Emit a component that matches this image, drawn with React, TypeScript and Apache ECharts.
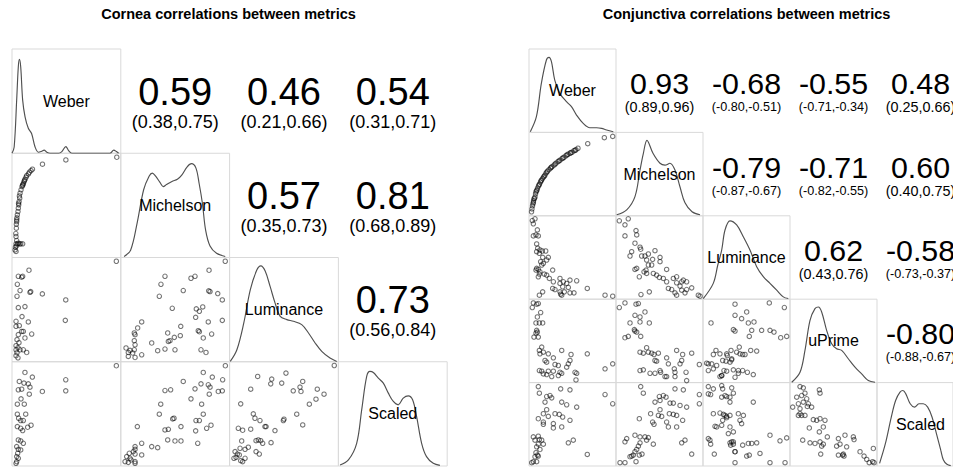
import React, { useEffect, useRef } from "react";
import * as echarts from "echarts";

// ---------------- text data ----------------
const corneaTitle = "Cornea correlations between metrics";
const conjTitle = "Conjunctiva correlations between metrics";
const corneaVars = ["Weber", "Michelson", "Luminance", "Scaled"];
const conjVars = ["Weber", "Michelson", "Luminance", "uPrime", "Scaled"];

// upper-triangle correlations, row-major: (1,2),(1,3),(1,4),(2,3),...
const corneaCor = [0.59, 0.46, 0.54, 0.57, 0.81, 0.73];
const corneaCI = ["(0.38,0.75)", "(0.21,0.66)", "(0.31,0.71)", "(0.35,0.73)", "(0.68,0.89)", "(0.56,0.84)"];
const conjCor = [0.93, -0.68, -0.55, 0.48, -0.79, -0.71, 0.6, 0.62, -0.58, -0.8];
const conjCI = ["(0.89,0.96)", "(-0.80,-0.51)", "(-0.71,-0.34)", "(0.25,0.66)", "(-0.87,-0.67)", "(-0.82,-0.55)", "(0.40,0.75)", "(0.43,0.76)", "(-0.73,-0.37)", "(-0.88,-0.67)"];

// ---------------- density curves (scaled to each panel's range) ----------------
const cDensWeber = [[0, 0], [0.02, 0.06], [0.043, 0.51], [0.058, 0.83], [0.068, 0.9], [0.08, 0.83], [0.098, 0.51], [0.12, 0.35], [0.15, 0.24], [0.18, 0.19], [0.212, 0.06], [0.243, 0.01], [0.274, 0.02], [0.295, 0.03], [0.32, 0.01], [0.35, 0], [0.43, 0], [0.458, 0.016], [0.495, 0.064], [0.52, 0.026], [0.55, 0], [0.9, 0], [0.935, 0.03], [0.96, 0.016], [0.98, 0]];
const cDensMich = [[0.03, 0.01], [0.09, 0.07], [0.15, 0.33], [0.21, 0.65], [0.26, 0.78], [0.29, 0.81], [0.32, 0.78], [0.36, 0.72], [0.39, 0.68], [0.42, 0.7], [0.47, 0.73], [0.52, 0.75], [0.56, 0.79], [0.61, 0.87], [0.65, 0.9], [0.69, 0.86], [0.72, 0.71], [0.75, 0.52], [0.78, 0.26], [0.82, 0.11], [0.88, 0.04], [0.96, 0.01]];
const cDensLum = [[0.006, 0.003], [0.067, 0.115], [0.13, 0.37], [0.19, 0.69], [0.25, 0.88], [0.287, 0.92], [0.327, 0.87], [0.373, 0.72], [0.419, 0.56], [0.465, 0.436], [0.526, 0.404], [0.587, 0.388], [0.663, 0.356], [0.725, 0.276], [0.786, 0.18], [0.847, 0.1], [0.923, 0.035], [0.985, 0.003]];
const cDensScaled = [[0.015, 0.01], [0.092, 0.058], [0.168, 0.218], [0.214, 0.538], [0.26, 0.859], [0.29, 0.907], [0.321, 0.897], [0.367, 0.843], [0.413, 0.795], [0.459, 0.699], [0.505, 0.619], [0.55, 0.587], [0.596, 0.651], [0.642, 0.673], [0.682, 0.635], [0.719, 0.474], [0.765, 0.218], [0.81, 0.09], [0.872, 0.026], [0.933, 0.006]];

const jDensWeber = [[0.015, 0.008], [0.085, 0.188], [0.142, 0.588], [0.2, 0.868], [0.23, 0.9], [0.258, 0.848], [0.296, 0.628], [0.354, 0.468], [0.431, 0.368], [0.488, 0.308], [0.546, 0.208], [0.623, 0.108], [0.7, 0.056], [0.777, 0.056], [0.835, 0.048], [0.892, 0.028], [0.969, 0.008]];
const jDensMich = [[0.008, 0.012], [0.123, 0.071], [0.218, 0.23], [0.276, 0.548], [0.314, 0.746], [0.356, 0.905], [0.425, 0.75], [0.506, 0.63], [0.563, 0.607], [0.62, 0.63], [0.678, 0.548], [0.736, 0.345], [0.793, 0.155], [0.874, 0.048], [0.966, 0.012]];
const jDensLum = [[0.003, 0.008], [0.118, 0.19], [0.17, 0.41], [0.215, 0.59], [0.253, 0.83], [0.31, 0.94], [0.387, 0.89], [0.463, 0.75], [0.54, 0.59], [0.617, 0.39], [0.693, 0.27], [0.77, 0.19], [0.847, 0.108], [0.923, 0.028], [0.98, 0.008]];
const jDensUPrime = [[0.02, 0.004], [0.115, 0.124], [0.172, 0.386], [0.23, 0.747], [0.287, 0.887], [0.326, 0.907], [0.364, 0.847], [0.421, 0.627], [0.479, 0.466], [0.536, 0.406], [0.594, 0.386], [0.67, 0.286], [0.747, 0.185], [0.824, 0.104], [0.9, 0.024], [0.977, 0.004]];
const jDensScaled = [[0.034, 0.032], [0.111, 0.27], [0.188, 0.587], [0.245, 0.786], [0.303, 0.885], [0.341, 0.905], [0.379, 0.865], [0.437, 0.746], [0.494, 0.706], [0.552, 0.746], [0.609, 0.746], [0.667, 0.706], [0.724, 0.587], [0.782, 0.389], [0.839, 0.19], [0.874, 0.071], [0.92, 0.02], [0.97, 0.005]];

// ---------------- scatter cells (x = column variable, y = row variable) ----------------
const cWeberMich = [[0.963, 0.962], [0.495, 0.936], [0.28, 0.895], [0.188, 0.847], [0.175, 0.834], [0.16, 0.818], [0.151, 0.802], [0.135, 0.786], [0.129, 0.77], [0.12, 0.751], [0.115, 0.74], [0.111, 0.728], [0.105, 0.712], [0.1, 0.7], [0.098, 0.693], [0.092, 0.681], [0.083, 0.649], [0.074, 0.617], [0.068, 0.59], [0.071, 0.569], [0.065, 0.537], [0.06, 0.52], [0.062, 0.505], [0.058, 0.473], [0.055, 0.441], [0.049, 0.409], [0.045, 0.38], [0.043, 0.361], [0.043, 0.345], [0.04, 0.32], [0.04, 0.281], [0.035, 0.23], [0.037, 0.201], [0.043, 0.163], [0.058, 0.137], [0.08, 0.131], [0.098, 0.131], [0.07, 0.13], [0.05, 0.13], [0.037, 0.131], [0.04, 0.11], [0.031, 0.099], [0.028, 0.073], [0.037, 0.058]];
const cWeberLum = [[0.959, 0.964], [0.156, 0.878], [0.058, 0.82], [0.089, 0.811], [0.098, 0.82], [0.049, 0.743], [0.074, 0.683], [0.172, 0.673], [0.165, 0.666], [0.279, 0.651], [0.046, 0.628], [0.494, 0.593], [0.058, 0.519], [0.119, 0.529], [0.092, 0.433], [0.037, 0.388], [0.15, 0.382], [0.49, 0.397], [0.037, 0.34], [0.067, 0.346], [0.089, 0.291], [0.104, 0.291], [0.181, 0.266], [0.058, 0.26], [0.119, 0.228], [0.046, 0.212], [0.064, 0.183], [0.037, 0.154], [0.055, 0.135], [0.037, 0.115], [0.074, 0.115], [0.135, 0.089], [0.104, 0.115], [0.046, 0.087], [0.037, 0.058], [0.055, 0.038]];
const cWeberScaled = [[0.959, 0.962], [0.119, 0.897], [0.187, 0.853], [0.067, 0.811], [0.11, 0.795], [0.15, 0.788], [0.058, 0.731], [0.089, 0.737], [0.165, 0.756], [0.159, 0.689], [0.279, 0.715], [0.494, 0.827], [0.494, 0.721], [0.083, 0.644], [0.049, 0.593], [0.113, 0.593], [0.049, 0.497], [0.126, 0.497], [0.061, 0.458], [0.08, 0.436], [0.104, 0.436], [0.049, 0.378], [0.08, 0.362], [0.144, 0.372], [0.175, 0.391], [0.098, 0.34], [0.058, 0.25], [0.08, 0.24], [0.104, 0.218], [0.043, 0.186], [0.058, 0.16], [0.08, 0.154], [0.052, 0.122], [0.043, 0.09], [0.058, 0.074], [0.043, 0.042], [0.037, 0.026]];
const cMichLum = [[0.96, 0.964], [0.406, 0.82], [0.369, 0.743], [0.645, 0.801], [0.682, 0.82], [0.811, 0.878], [0.574, 0.683], [0.82, 0.673], [0.808, 0.68], [0.891, 0.654], [0.354, 0.628], [0.933, 0.593], [0.473, 0.513], [0.694, 0.507], [0.722, 0.484], [0.753, 0.526], [0.688, 0.426], [0.933, 0.397], [0.804, 0.382], [0.192, 0.382], [0.155, 0.324], [0.551, 0.34], [0.124, 0.276], [0.131, 0.26], [0.712, 0.298], [0.722, 0.288], [0.431, 0.276], [0.835, 0.266], [0.492, 0.234], [0.547, 0.25], [0.758, 0.228], [0.437, 0.195], [0.452, 0.202], [0.284, 0.18], [0.124, 0.202], [0.131, 0.163], [0.048, 0.132], [0.069, 0.089], [0.085, 0.109], [0.124, 0.115], [0.109, 0.084], [0.131, 0.041], [0.069, 0.051], [0.192, 0.067], [0.339, 0.106], [0.406, 0.122], [0.498, 0.115], [0.737, 0.115], [0.783, 0.089]];
const cMichScaled = [[0.961, 0.962], [0.758, 0.897], [0.841, 0.853], [0.936, 0.827], [0.574, 0.811], [0.737, 0.788], [0.804, 0.779], [0.82, 0.756], [0.682, 0.74], [0.406, 0.724], [0.458, 0.731], [0.933, 0.721], [0.896, 0.715], [0.813, 0.689], [0.645, 0.644], [0.367, 0.593], [0.743, 0.593], [0.354, 0.497], [0.758, 0.497], [0.477, 0.452], [0.489, 0.458], [0.691, 0.436], [0.722, 0.436], [0.152, 0.378], [0.553, 0.378], [0.406, 0.346], [0.437, 0.352], [0.789, 0.362], [0.829, 0.391], [0.688, 0.337], [0.498, 0.24], [0.553, 0.24], [0.431, 0.25], [0.707, 0.218], [0.192, 0.218], [0.284, 0.186], [0.339, 0.176], [0.131, 0.186], [0.131, 0.16], [0.115, 0.138], [0.078, 0.122], [0.131, 0.115], [0.192, 0.106], [0.054, 0.09], [0.085, 0.074], [0.039, 0.042], [0.069, 0.035], [0.131, 0.042], [0.131, 0.026], [0.094, 0.058]];
const cLumScaled = [[0.962, 0.964], [0.258, 0.859], [0.387, 0.834], [0.378, 0.788], [0.479, 0.795], [0.518, 0.891], [0.672, 0.811], [0.647, 0.757], [0.656, 0.715], [0.585, 0.721], [0.194, 0.737], [0.806, 0.737], [0.868, 0.689], [0.794, 0.641], [0.733, 0.593], [0.102, 0.596], [0.617, 0.497], [0.672, 0.394], [0.218, 0.5], [0.233, 0.458], [0.279, 0.436], [0.325, 0.378], [0.335, 0.378], [0.494, 0.436], [0.5, 0.449], [0.08, 0.362], [0.12, 0.343], [0.194, 0.353], [0.417, 0.34], [0.243, 0.243], [0.264, 0.25], [0.286, 0.243], [0.304, 0.218], [0.111, 0.24], [0.096, 0.17], [0.142, 0.16], [0.172, 0.18], [0.381, 0.224], [0.243, 0.138], [0.273, 0.115], [0.05, 0.138], [0.071, 0.115], [0.089, 0.106], [0.04, 0.074], [0.102, 0.051], [0.12, 0.042], [0.142, 0.074], [0.059, 0.083]];

const jWeberMich = [[0.029, 0.048], [0.034, 0.083], [0.04, 0.119], [0.046, 0.143], [0.05, 0.16], [0.052, 0.179], [0.057, 0.202], [0.063, 0.21], [0.069, 0.226], [0.075, 0.262], [0.08, 0.286], [0.086, 0.3], [0.092, 0.31], [0.098, 0.333], [0.109, 0.357], [0.115, 0.37], [0.121, 0.381], [0.132, 0.405], [0.138, 0.42], [0.144, 0.429], [0.155, 0.446], [0.167, 0.464], [0.175, 0.475], [0.184, 0.488], [0.195, 0.512], [0.205, 0.525], [0.213, 0.536], [0.23, 0.554], [0.247, 0.571], [0.255, 0.58], [0.264, 0.589], [0.287, 0.607], [0.3, 0.62], [0.31, 0.631], [0.333, 0.649], [0.345, 0.658], [0.356, 0.667], [0.379, 0.685], [0.39, 0.693], [0.402, 0.702], [0.425, 0.72], [0.436, 0.73], [0.448, 0.738], [0.471, 0.75], [0.48, 0.756], [0.494, 0.762], [0.517, 0.78], [0.53, 0.786], [0.54, 0.792], [0.563, 0.81], [0.675, 0.865], [0.866, 0.937], [0.962, 0.952]];
const jWeberLum = [[0.038, 0.943], [0.069, 0.964], [0.05, 0.904], [0.096, 0.831], [0.08, 0.771], [0.05, 0.759], [0.107, 0.759], [0.088, 0.663], [0.1, 0.611], [0.126, 0.59], [0.088, 0.57], [0.119, 0.55], [0.153, 0.578], [0.192, 0.578], [0.222, 0.502], [0.203, 0.47], [0.157, 0.502], [0.134, 0.45], [0.165, 0.43], [0.146, 0.41], [0.088, 0.37], [0.107, 0.357], [0.08, 0.349], [0.126, 0.329], [0.119, 0.301], [0.107, 0.269], [0.176, 0.301], [0.203, 0.289], [0.272, 0.349], [0.234, 0.249], [0.28, 0.209], [0.272, 0.129], [0.299, 0.116], [0.356, 0.249], [0.356, 0.189], [0.395, 0.209], [0.387, 0.149], [0.356, 0.088], [0.433, 0.189], [0.471, 0.229], [0.452, 0.141], [0.548, 0.221], [0.517, 0.076], [0.471, 0.076], [0.406, 0.088], [0.364, 0.06], [0.157, 0.088], [0.119, 0.048], [0.67, 0.129], [0.874, 0.048], [0.962, 0.036], [0.376, 0.048]];
const jMichLum = [[0.038, 0.94], [0.103, 0.892], [0.141, 0.964], [0.103, 0.759], [0.23, 0.823], [0.238, 0.771], [0.218, 0.671], [0.276, 0.623], [0.284, 0.599], [0.18, 0.57], [0.295, 0.518], [0.161, 0.518], [0.333, 0.518], [0.372, 0.542], [0.352, 0.47], [0.448, 0.582], [0.421, 0.478], [0.506, 0.502], [0.506, 0.45], [0.41, 0.41], [0.372, 0.41], [0.345, 0.349], [0.238, 0.37], [0.218, 0.357], [0.268, 0.269], [0.322, 0.329], [0.352, 0.309], [0.429, 0.309], [0.467, 0.289], [0.582, 0.357], [0.498, 0.261], [0.544, 0.249], [0.582, 0.209], [0.602, 0.129], [0.659, 0.249], [0.697, 0.269], [0.697, 0.197], [0.736, 0.157], [0.755, 0.209], [0.774, 0.229], [0.812, 0.209], [0.755, 0.108], [0.793, 0.076], [0.678, 0.076], [0.64, 0.116], [0.812, 0.116], [0.87, 0.136], [0.946, 0.048], [0.966, 0.036], [0.383, 0.088], [0.287, 0.056], [0.697, 0.048]];
const jWeberUPrime = [[0.05, 0.955], [0.088, 0.94], [0.107, 0.948], [0.038, 0.9], [0.134, 0.84], [0.096, 0.787], [0.08, 0.715], [0.119, 0.715], [0.157, 0.715], [0.088, 0.627], [0.096, 0.606], [0.08, 0.594], [0.057, 0.546], [0.107, 0.546], [0.146, 0.426], [0.119, 0.386], [0.165, 0.365], [0.126, 0.345], [0.222, 0.345], [0.184, 0.265], [0.203, 0.245], [0.28, 0.297], [0.299, 0.217], [0.337, 0.205], [0.376, 0.386], [0.483, 0.337], [0.471, 0.265], [0.452, 0.225], [0.433, 0.185], [0.67, 0.345], [0.119, 0.145], [0.146, 0.137], [0.222, 0.137], [0.165, 0.104], [0.203, 0.096], [0.261, 0.072], [0.28, 0.137], [0.356, 0.124], [0.376, 0.112], [0.337, 0.084], [0.529, 0.124], [0.548, 0.112], [0.54, 0.032], [0.874, 0.165], [0.962, 0.225]];
const jMichUPrime = [[0.038, 0.9], [0.103, 0.955], [0.23, 0.94], [0.257, 0.948], [0.218, 0.807], [0.276, 0.787], [0.161, 0.715], [0.276, 0.727], [0.333, 0.847], [0.383, 0.715], [0.211, 0.635], [0.218, 0.618], [0.238, 0.606], [0.141, 0.554], [0.103, 0.538], [0.284, 0.554], [0.352, 0.418], [0.372, 0.365], [0.276, 0.365], [0.314, 0.353], [0.41, 0.353], [0.437, 0.337], [0.487, 0.353], [0.448, 0.265], [0.467, 0.257], [0.582, 0.297], [0.602, 0.225], [0.697, 0.386], [0.766, 0.337], [0.87, 0.353], [0.755, 0.265], [0.736, 0.225], [0.67, 0.165], [0.678, 0.124], [0.678, 0.072], [0.805, 0.124], [0.812, 0.024], [0.958, 0.217], [0.276, 0.145], [0.314, 0.153], [0.391, 0.112], [0.448, 0.112], [0.506, 0.145], [0.563, 0.072], [0.582, 0.072], [0.513, 0.124]];
const jLumUPrime = [[0.368, 0.807], [0.092, 0.715], [0.349, 0.635], [0.149, 0.386], [0.119, 0.337], [0.195, 0.345], [0.272, 0.345], [0.322, 0.386], [0.042, 0.233], [0.061, 0.225], [0.1, 0.225], [0.061, 0.145], [0.119, 0.165], [0.157, 0.205], [0.195, 0.072], [0.215, 0.084], [0.31, 0.245], [0.33, 0.285], [0.226, 0.265], [0.387, 0.365], [0.406, 0.145], [0.368, 0.064], [0.368, 0.94], [0.762, 0.955], [0.935, 0.9], [0.502, 0.847], [0.444, 0.767], [0.521, 0.715], [0.586, 0.727], [0.368, 0.618], [0.56, 0.627], [0.674, 0.627], [0.77, 0.627], [0.816, 0.606], [0.893, 0.538], [0.962, 0.554], [0.532, 0.554], [0.417, 0.426], [0.425, 0.345], [0.456, 0.337], [0.483, 0.337], [0.548, 0.386], [0.617, 0.378], [0.279, 0.325], [0.264, 0.257], [0.329, 0.273], [0.241, 0.145], [0.272, 0.137], [0.215, 0.084], [0.349, 0.153], [0.406, 0.112], [0.456, 0.145], [0.51, 0.124], [0.578, 0.096]];
const jWeberScaled = [[0.107, 0.952], [0.119, 0.873], [0.203, 0.833], [0.241, 0.845], [0.261, 0.817], [0.364, 0.925], [0.471, 0.913], [0.184, 0.766], [0.376, 0.766], [0.433, 0.734], [0.548, 0.706], [0.203, 0.675], [0.165, 0.627], [0.222, 0.595], [0.299, 0.627], [0.348, 0.619], [0.387, 0.587], [0.107, 0.567], [0.165, 0.527], [0.165, 0.5], [0.28, 0.508], [0.376, 0.468], [0.28, 0.456], [0.471, 0.548], [0.874, 0.857], [0.962, 0.746], [0.67, 0.139], [0.509, 0.31], [0.452, 0.278], [0.05, 0.349], [0.069, 0.31], [0.107, 0.357], [0.119, 0.317], [0.146, 0.31], [0.165, 0.262], [0.107, 0.262], [0.088, 0.23], [0.126, 0.198], [0.08, 0.159], [0.096, 0.131], [0.107, 0.119], [0.069, 0.111], [0.05, 0.052], [0.031, 0.04], [0.088, 0.052]];
const jMichScaled = [[0.284, 0.952], [0.314, 0.873], [0.498, 0.833], [0.544, 0.845], [0.575, 0.825], [0.678, 0.925], [0.774, 0.913], [0.448, 0.766], [0.506, 0.786], [0.621, 0.754], [0.659, 0.754], [0.736, 0.726], [0.812, 0.706], [0.398, 0.627], [0.487, 0.607], [0.525, 0.595], [0.506, 0.675], [0.613, 0.627], [0.659, 0.619], [0.697, 0.607], [0.766, 0.548], [0.268, 0.567], [0.421, 0.527], [0.437, 0.5], [0.582, 0.527], [0.602, 0.468], [0.697, 0.468], [0.87, 0.143], [0.958, 0.857], [0.958, 0.746], [0.755, 0.278], [0.793, 0.31], [0.123, 0.329], [0.103, 0.29], [0.218, 0.369], [0.276, 0.349], [0.333, 0.349], [0.372, 0.341], [0.352, 0.31], [0.429, 0.262], [0.276, 0.278], [0.257, 0.238], [0.238, 0.198], [0.218, 0.171], [0.199, 0.131], [0.161, 0.111], [0.18, 0.119], [0.268, 0.131], [0.299, 0.143], [0.046, 0.04], [0.103, 0.04], [0.23, 0.052]];
const jLumScaled = [[0.061, 0.952], [0.061, 0.865], [0.088, 0.857], [0.119, 0.925], [0.226, 0.925], [0.215, 0.825], [0.272, 0.833], [0.33, 0.937], [0.226, 0.548], [0.138, 0.476], [0.157, 0.468], [0.119, 0.627], [0.195, 0.635], [0.253, 0.607], [0.272, 0.579], [0.31, 0.607], [0.31, 0.468], [0.061, 0.329], [0.08, 0.31], [0.088, 0.262], [0.13, 0.143], [0.33, 0.29], [0.349, 0.262], [0.368, 0.171], [0.215, 0.964], [0.253, 0.845], [0.31, 0.825], [0.349, 0.873], [0.578, 0.766], [0.31, 0.766], [0.406, 0.627], [0.464, 0.607], [0.234, 0.619], [0.272, 0.595], [0.425, 0.548], [0.444, 0.508], [0.349, 0.409], [0.291, 0.389], [0.77, 0.369], [0.962, 0.337], [0.885, 0.302], [0.31, 0.278], [0.349, 0.29], [0.318, 0.25], [0.456, 0.25], [0.521, 0.27], [0.56, 0.27], [0.617, 0.278], [0.655, 0.151], [0.368, 0.171], [0.502, 0.119], [0.532, 0.131], [0.368, 0.04], [0.77, 0.04], [0.943, 0.04], [0.215, 0.488]];
const jUPrimeScaled = [[0.115, 0.952], [0.153, 0.937], [0.172, 0.873], [0.134, 0.845], [0.077, 0.825], [0.192, 0.806], [0.337, 0.913], [0.345, 0.873], [0.031, 0.706], [0.096, 0.746], [0.153, 0.766], [0.211, 0.746], [0.199, 0.714], [0.115, 0.627], [0.134, 0.607], [0.115, 0.687], [0.172, 0.607], [0.096, 0.607], [0.249, 0.706], [0.222, 0.456], [0.268, 0.556], [0.307, 0.548], [0.345, 0.567], [0.402, 0.548], [0.383, 0.468], [0.337, 0.409], [0.429, 0.349], [0.556, 0.329], [0.632, 0.369], [0.728, 0.349], [0.736, 0.317], [0.575, 0.262], [0.536, 0.238], [0.651, 0.23], [0.23, 0.278], [0.287, 0.27], [0.345, 0.29], [0.383, 0.262], [0.364, 0.238], [0.146, 0.31], [0.353, 0.143], [0.556, 0.131], [0.613, 0.143], [0.621, 0.119], [0.605, 0.131], [0.805, 0.171], [0.851, 0.119], [0.882, 0.079], [0.958, 0.21], [0.911, 0.04], [0.95, 0.052], [0.966, 0.04]];

// ---------------- layout (positions / sizes / styles) ----------------
const W = 953;
const H = 467;
const FONT = "'Liberation Sans', Arial, Helvetica, sans-serif";
const CHAR_EM: Record<string, number> = { ".": 0.278, ",": 0.278, "(": 0.333, ")": 0.333, "-": 0.333 };
const emWidth = (s: string) => s.split("").reduce((a, ch) => a + (CHAR_EM[ch] ?? 0.556), 0);

type Cell = { r: number; c: number; d: number[][] };
type Panel = {
  title: string; titleX: number; vars: string[];
  x0: number; y0: number; cw: number; ch: number;
  dens: number[][][]; scat: Cell[]; cor: number[]; ci: string[];
  bigDy: number; ciDy: number;
};

const panels: Panel[] = [
  {
    title: corneaTitle, titleX: 228.5, vars: corneaVars,
    x0: 12, y0: 49, cw: 108.8, ch: 104.25,
    dens: [cDensWeber, cDensMich, cDensLum, cDensScaled],
    scat: [
      { r: 1, c: 0, d: cWeberMich }, { r: 2, c: 0, d: cWeberLum }, { r: 3, c: 0, d: cWeberScaled },
      { r: 2, c: 1, d: cMichLum }, { r: 3, c: 1, d: cMichScaled }, { r: 3, c: 2, d: cLumScaled },
    ],
    cor: corneaCor, ci: corneaCI, bigDy: -9.5, ciDy: 20.5,
  },
  {
    title: conjTitle, titleX: 746.5, vars: conjVars,
    x0: 529, y0: 49, cw: 87, ch: 83.4,
    dens: [jDensWeber, jDensMich, jDensLum, jDensUPrime, jDensScaled],
    scat: [
      { r: 1, c: 0, d: jWeberMich }, { r: 2, c: 0, d: jWeberLum }, { r: 3, c: 0, d: jWeberUPrime }, { r: 4, c: 0, d: jWeberScaled },
      { r: 2, c: 1, d: jMichLum }, { r: 3, c: 1, d: jMichUPrime }, { r: 4, c: 1, d: jMichScaled },
      { r: 3, c: 2, d: jLumUPrime }, { r: 4, c: 2, d: jLumScaled },
      { r: 4, c: 3, d: jUPrimeScaled },
    ],
    cor: conjCor, ci: conjCI, bigDy: -7, ciDy: 16.5,
  },
];

function textEl(text: string, x: number, y: number, fontSize: number, weight = "normal") {
  return {
    type: "text", x, y, z: 100, silent: true,
    style: {
      text, fontSize, fontFamily: FONT, fontWeight: weight, fill: "#000",
      align: "center", verticalAlign: "middle", textAlign: "center", textVerticalAlign: "middle",
    },
  };
}

function buildOption() {
  const grid: any[] = [];
  const xAxis: any[] = [];
  const yAxis: any[] = [];
  const series: any[] = [];
  const graphic: any[] = [];

  const addGrid = (p: Panel, r: number, c: number) => {
    const idx = grid.length;
    grid.push({
      left: p.x0 + c * p.cw, top: p.y0 + r * p.ch, width: p.cw, height: p.ch,
      show: true, borderColor: "#d9d9d9", borderWidth: 1, backgroundColor: "transparent",
    });
    const ax = { type: "value", min: 0, max: 1, show: false, gridIndex: idx };
    xAxis.push({ ...ax });
    yAxis.push({ ...ax });
    return idx;
  };

  for (const p of panels) {
    graphic.push(textEl(p.title, p.titleX, 14, 14.5, "bold"));
    p.vars.forEach((name, i) => {
      const g = addGrid(p, i, i);
      series.push({
        type: "line", xAxisIndex: g, yAxisIndex: g, data: p.dens[i], smooth: 0.35,
        symbol: "none", lineStyle: { color: "#505050", width: 1.15 }, silent: true,
      });
      graphic.push(textEl(name, p.x0 + (i + 0.5) * p.cw, p.y0 + (i + 0.5) * p.ch, 16));
    });
    for (const cell of p.scat) {
      const g = addGrid(p, cell.r, cell.c);
      series.push({
        type: "scatter", xAxisIndex: g, yAxisIndex: g, data: cell.d, symbol: "circle", symbolSize: 4.4,
        itemStyle: { color: "rgba(0,0,0,0)", borderColor: "rgba(0,0,0,0.68)", borderWidth: 1.1 },
        silent: true, clip: false,
      });
    }
    let k = 0;
    const n = p.vars.length;
    for (let r = 0; r < n; r++) {
      for (let c = r + 1; c < n; c++) {
        const cx = p.x0 + (c + 0.5) * p.cw;
        const cy = p.y0 + (r + 0.5) * p.ch;
        graphic.push(textEl(p.cor[k].toFixed(2), cx, cy + p.bigDy, p.cw * 0.349));
        graphic.push(textEl(p.ci[k], cx, cy + p.ciDy, (0.8 * p.cw) / emWidth(p.ci[k])));
        k++;
      }
    }
  }

  return { animation: false, backgroundColor: "#fff", grid, xAxis, yAxis, series, graphic };
}

export default function App() {
  const ref = useRef<HTMLDivElement>(null);
  useEffect(() => {
    const chart = echarts.init(ref.current!, null, { renderer: "svg" });
    chart.setOption(buildOption() as any);
    return () => chart.dispose();
  }, []);
  return (
    <div
      ref={ref}
      style={{ position: "fixed", left: 0, top: 0, width: W, height: H, background: "#fff", overflow: "hidden" }}
    />
  );
}
